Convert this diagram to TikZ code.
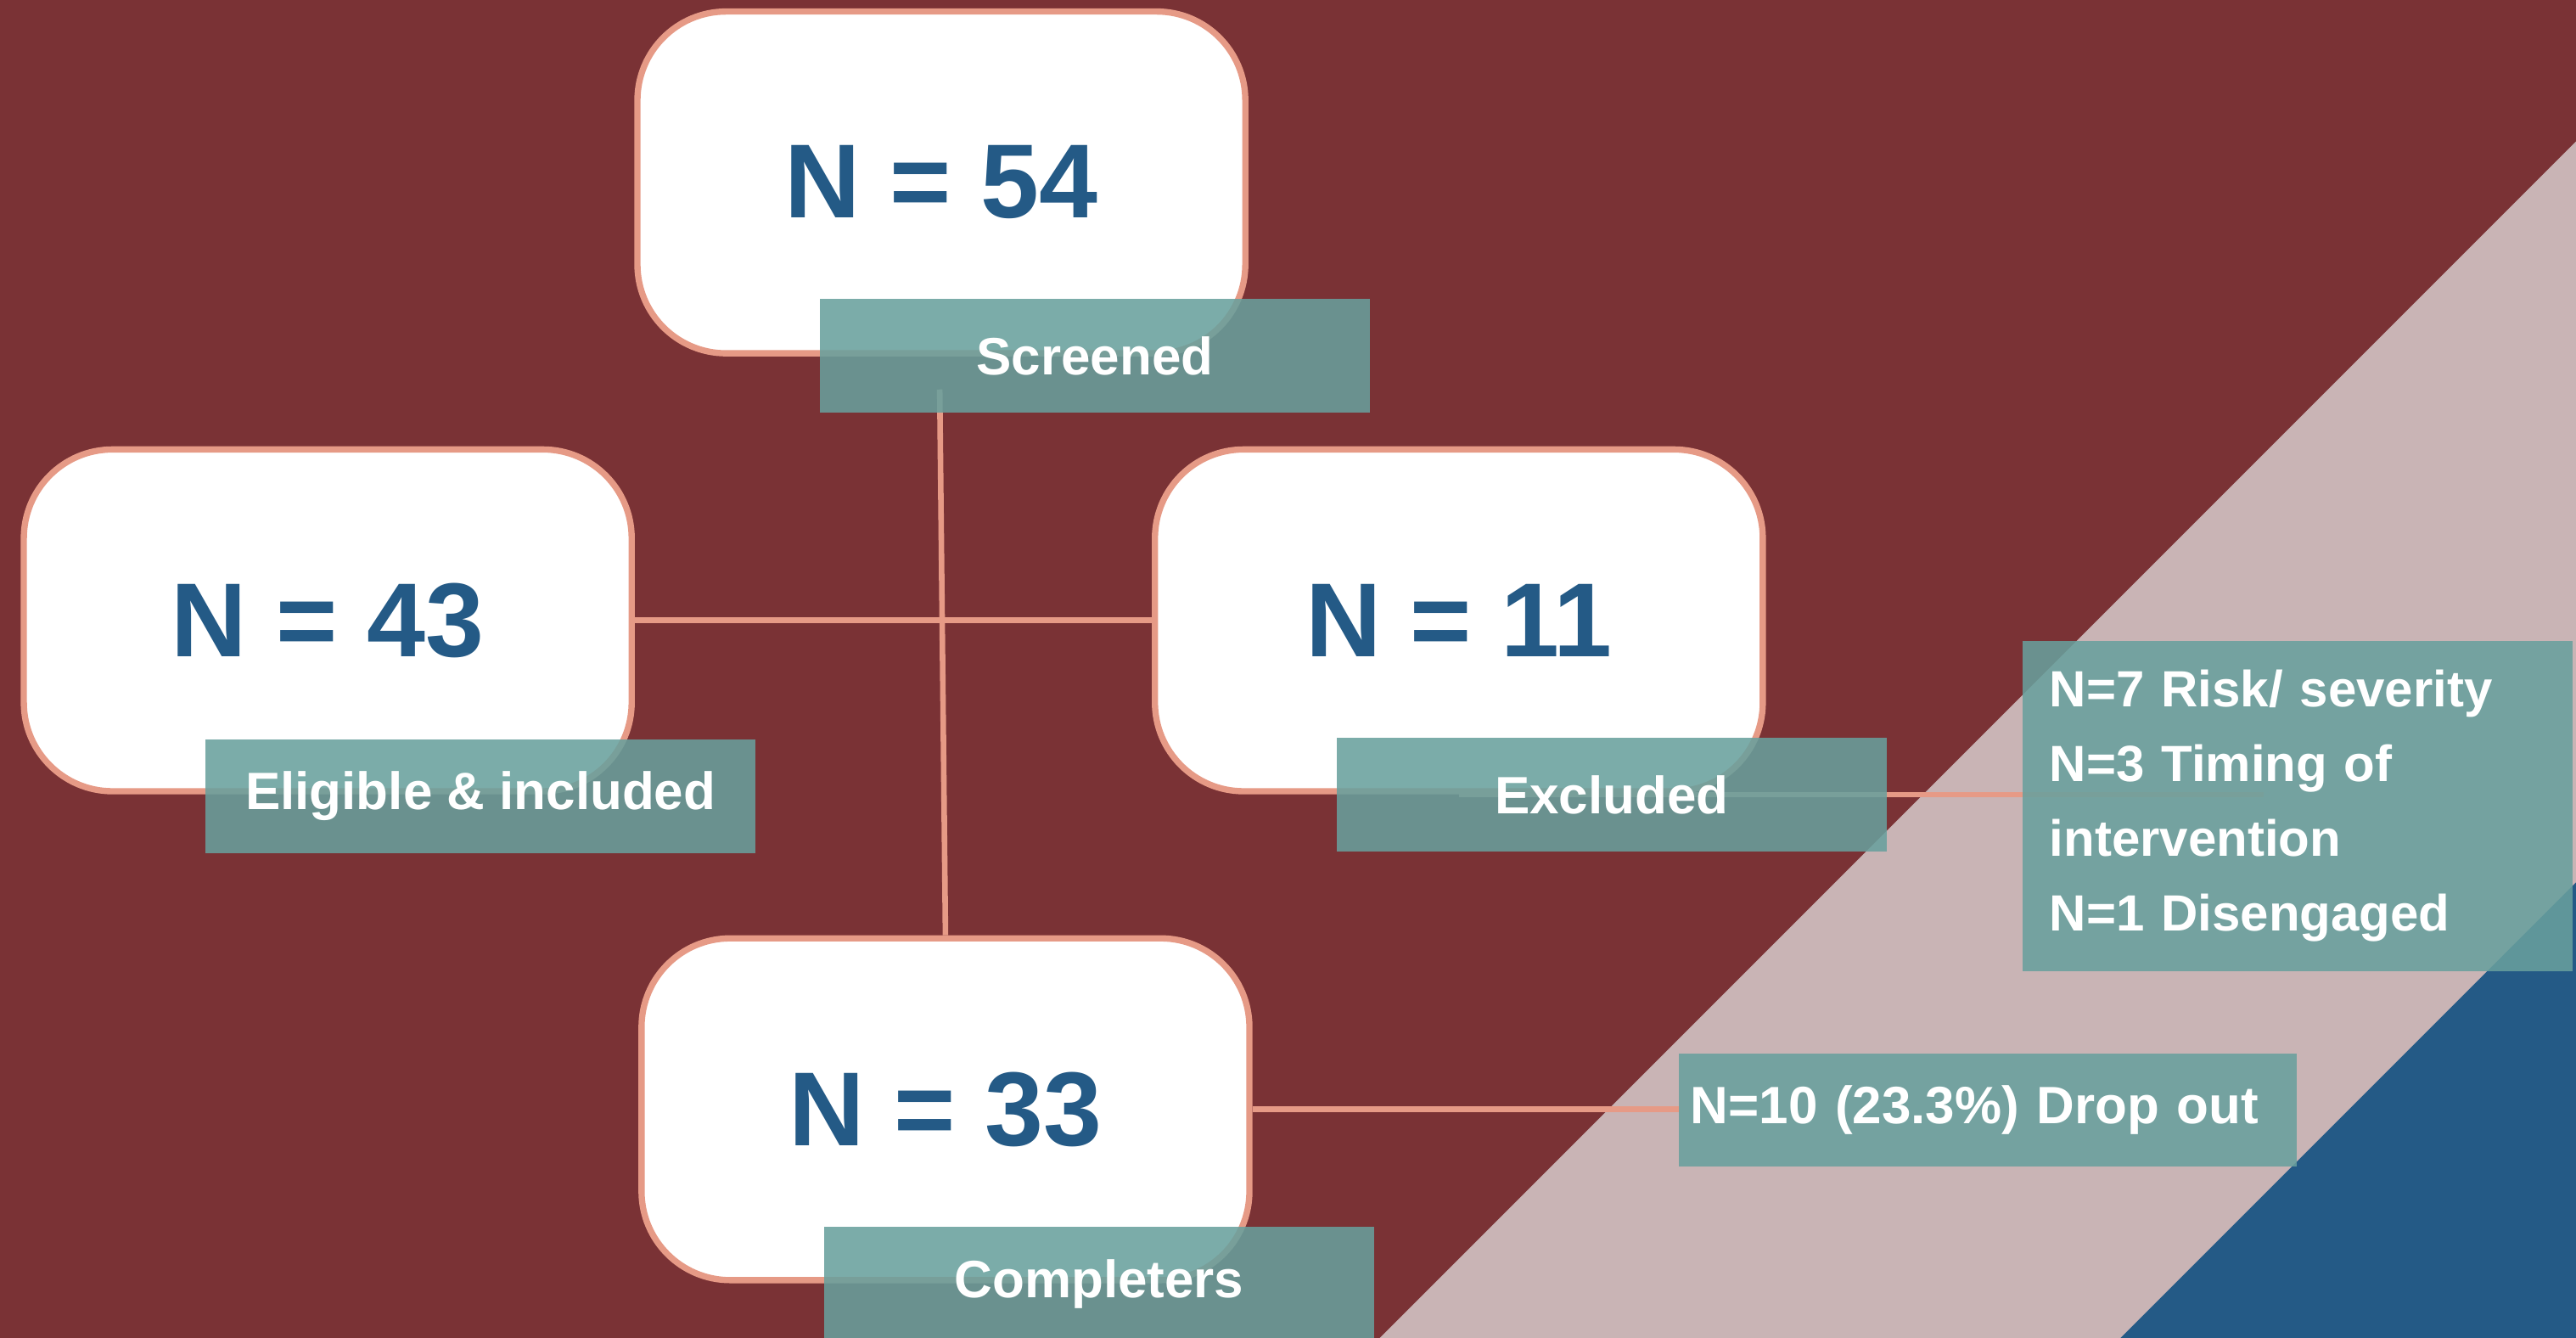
\documentclass[tikz,border=0pt]{standalone}
\usepackage{fontspec}
\setmainfont{Liberation Sans}
\definecolor{bgmaroon}{HTML}{7A3235}
\definecolor{bandpink}{HTML}{C9B4B5}
\definecolor{deepblue}{HTML}{245A86}
\definecolor{salmon}{HTML}{E69A86}
\definecolor{tealbox}{RGB}{104,160,157}
\definecolor{numblue}{HTML}{245A86}
\begin{document}
\begin{tikzpicture}[x=0.5pt,y=-0.5pt,
  countbox/.style={draw=salmon, line width=1.9pt, fill=white, rounded corners=27pt,
    minimum width=185pt, minimum height=104pt, inner sep=0pt, text=numblue,
    font=\fontsize{32}{38}\selectfont\bfseries},
  labelbox/.style={fill=tealbox, fill opacity=0.87, text opacity=1, text=white,
    minimum width=167.5pt, minimum height=34.5pt, inner sep=0pt,
    font=\fontsize{16}{19}\selectfont\bfseries},
  link/.style={draw=salmon, line width=1.7pt}]
\useasboundingbox (0,0) rectangle (1568,814.2);
\clip (0,0) rectangle (1568,814.2);
% background
\fill[bgmaroon] (0,0) rectangle (1568,814.2);
\fill[bandpink] (839.8,814.2) -- (1568,86) -- (1568,814.2) -- cycle;
\fill[deepblue] (1290.8,814.2) -- (1568,537) -- (1568,814.2) -- cycle;
% helper coordinates
\coordinate (vtop) at (572,237);
\coordinate (exA) at (888,483.5);
\coordinate (exB) at (1378,483.5);
% count boxes
\node[countbox] (c54) at (573,111) {N = 54};
\node[countbox] (c43) at (199.5,377.5) {N = 43};
\node[countbox] (c11) at (888,377.5) {N = 11};
\node[countbox] (c33) at (575.5,675) {N = 33};
% connectors (under the labels)
\draw[link] (vtop) -- (c33.north);
\draw[link] (c43.east) -- (c11.west);
\draw[link] (exA) -- (exB);
\draw[link] (c33.east) -- (1022,675) coordinate (dropin);
% labels
\node[labelbox] (scr) at (666.5,216.5) {Screened};
\node[labelbox] (elig) at (292.5,484.5) {Eligible \& included};
\node[labelbox] (excl) at (981,483.5) {Excluded};
\node[labelbox, minimum height=35pt] (comp) at (669,781.5) {Completers};
\node[labelbox, minimum height=100.5pt, text width=151pt, align=left,
  font=\fontsize{15.5}{22.7}\selectfont\bfseries] (risk) at (1398.5,490.5)
  {N=7 Risk/ severity\\N=3 Timing of\\intervention\\N=1 Disengaged};
\node[labelbox, minimum width=188pt, text width=181pt, align=left] (drop) at (1210,675.5)
  {N=10 (23.3\%) Drop out};
\end{tikzpicture}
\end{document}
